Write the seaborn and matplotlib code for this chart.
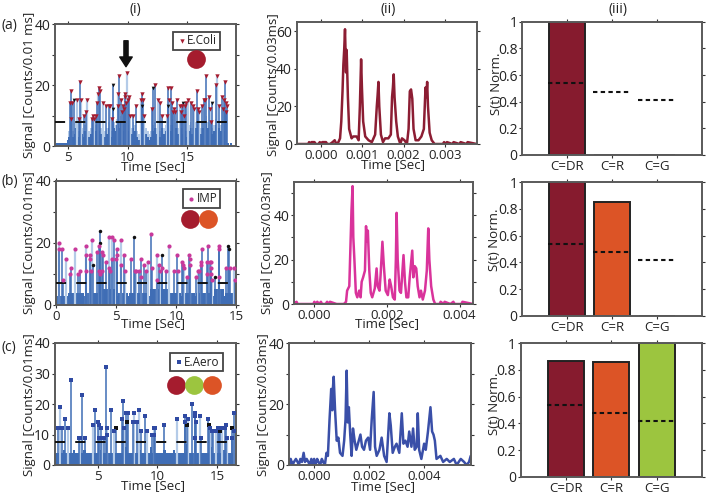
import matplotlib
matplotlib.use("Agg")
import matplotlib.pyplot as plt
import matplotlib.transforms as mtransforms
import seaborn as sns

# (i) peak markers, seconds / counts
ecoli_t = [5.1, 5.2, 5.2, 5.3, 5.7, 5.9, 5.95, 6.05, 6.3, 6.5, 6.55, 7.0, 7.05, 7.2, 7.3, 7.4, 7.5, 7.6, 7.65, 7.9,
           8.2, 8.4, 8.5, 8.7, 9.2, 9.2, 9.25, 9.4, 9.5, 9.6, 9.7, 9.75, 9.8, 9.85, 9.9, 10.0, 10.1, 10.2, 10.4, 10.7,
           11.1, 11.2, 11.3, 11.4, 12.0, 12.3, 12.5, 12.7, 12.9, 13.3, 13.4, 13.6, 13.5, 13.7, 13.8, 13.9, 14.0, 14.1,
           14.4, 14.5, 14.6, 14.7, 14.8, 14.9, 15.1, 15.3, 15.5, 15.6, 15.8, 15.9, 16.0, 16.2, 16.4, 16.5, 16.6, 16.8,
           16.9, 17.0, 17.4, 17.5, 17.7, 17.9, 18.0, 18.1, 18.2, 18.25, 18.3, 18.35]
ecoli_y = [14, 9, 18, 14, 15, 9, 21, 15, 10, 11, 15, 9, 10, 9, 10, 14, 17, 19, 18, 14,
           13, 13, 13, 9, 13, 17, 23, 15, 11, 13, 12, 16, 17, 14, 24, 15, 16, 10, 10, 13,
           15, 17, 15, 10, 12, 20, 15, 14, 10, 10, 19, 19, 15, 14, 11, 12, 11, 15,
           13, 11, 13, 10, 13, 14, 15, 14, 13, 12, 18, 12, 11, 13, 15, 15, 23, 16,
           12, 8, 20, 23, 13, 16, 12, 15, 21, 14, 11, 13]
ecoli_black_t = [5.5, 8.75, 8.75, 11.2, 12.15, 13.35, 14.65, 17.1]
ecoli_black_y = [15, 20, 12, 13, 19, 13, 14, 14]
ecoli_floor_t = [3.88, 4.9, 5.0, 5.15, 5.3, 5.45, 5.6, 5.75, 5.9, 6.05, 6.2, 6.35, 6.5, 6.65, 6.8, 6.95, 7.1, 7.25, 7.4,
                 7.55, 7.7, 7.85, 8.0, 8.15, 8.3, 8.45, 8.6, 8.75, 8.9, 9.05, 9.2, 9.35, 9.5, 9.65, 9.8, 9.95, 10.1,
                 10.25, 10.4, 10.55, 10.7, 10.85, 11.0, 11.15, 11.3, 11.45, 11.6, 11.75, 11.9, 12.05, 12.2, 12.35, 12.5,
                 12.65, 12.8, 12.95, 13.1, 13.25, 13.4, 13.55, 13.7, 13.85, 14.0, 14.15, 14.3, 14.45, 14.6, 14.75, 14.9,
                 15.05, 15.2, 15.35, 15.5, 15.65, 15.8, 15.95, 16.1, 16.25, 16.4, 16.55, 16.7, 16.85, 17.0, 17.15, 17.3,
                 17.45, 17.6, 17.75, 17.9, 18.05, 18.2, 18.5, 18.6, 18.75, 19.1]
ecoli_floor_y = [1, 2, 3, 5, 3, 4, 6, 3, 5, 4, 3, 5, 4, 3, 4, 6, 4, 5, 7,
                 5, 4, 6, 3, 4, 6, 5, 3, 6, 5, 7, 6, 8, 5, 7, 6, 5, 7,
                 4, 6, 5, 3, 2, 3, 6, 7, 4, 3, 2, 3, 5, 6, 4, 5,
                 3, 6, 4, 5, 7, 6, 5, 7, 5, 6, 4, 5, 6, 4, 5, 3,
                 5, 6, 4, 5, 6, 7, 5, 4, 6, 5, 8, 6, 7, 4, 5, 7,
                 5, 6, 5, 7, 5, 1, 0, 1, 0, 1]
ecoli_pale_y = [1, 2, 5, 7, 5, 6, 8, 5, 7, 6, 5, 7, 6, 5, 6, 8, 6, 7, 9,
                7, 6, 8, 5, 6, 8, 7, 5, 8, 7, 9, 8, 10, 7, 9, 8, 7, 9,
                6, 8, 7, 5, 4, 5, 8, 9, 6, 5, 4, 5, 7, 8, 6, 7,
                5, 8, 6, 7, 9, 8, 7, 9, 7, 8, 6, 7, 8, 6, 7, 5,
                7, 8, 6, 7, 8, 9, 7, 6, 8, 7, 10, 8, 9, 6, 7, 9,
                7, 8, 7, 9, 7, 1, 0, 1, 0, 1]

imp_t = [0.25, 0.25, 0.53, 0.6, 0.8, 1.2, 1.25, 1.6, 1.8, 2.0, 2.5, 2.5, 2.5, 2.8, 2.85, 2.9, 3.0, 3.4, 3.55, 3.6,
         3.7, 3.85, 3.8, 3.95, 4.15, 4.4, 4.45, 4.5, 4.7, 4.7, 4.85, 5.0, 5.1, 5.05, 5.4, 5.4, 5.65, 5.75, 6.25, 6.55,
         6.7, 6.95, 7.1, 7.1, 7.3, 7.5, 7.65, 7.9, 8.0, 8.45, 8.45, 8.6, 8.7, 8.85, 9.15, 9.45, 9.8, 10.1, 10.2, 10.5,
         10.55, 10.65, 10.9, 11.1, 11.15, 11.15, 11.65, 11.85, 11.9, 12.05, 12.1, 12.2, 12.55, 12.55, 12.7, 12.8, 12.9,
         12.9, 12.95, 13.0, 13.55, 13.6, 13.6, 14.2, 14.5, 14.8, 14.9]
imp_y = [18, 20, 18, 8, 15, 10, 12, 18, 10, 11, 19, 16, 11, 15, 16, 11, 21, 17, 19, 11,
         10, 17, 11, 16, 14, 22, 12, 11, 22, 15, 21, 15, 18, 16, 21, 13, 16, 11, 15, 11,
         11, 11, 15, 9, 13, 11, 14, 23, 12, 16, 8, 13, 11, 12, 11, 19, 11, 16, 11, 14,
         13, 12, 9, 16, 15, 13, 9, 11, 11, 14, 13, 18, 14, 10, 19, 14, 14,
         12, 10, 8, 18, 19, 9, 12, 12, 12, 8]
imp_black_t = [3.1, 3.65, 3.65, 6.5, 8.8, 13.25, 14.35, 14.4]
imp_black_y = [13, 24, 20, 22, 16, 9, 19, 18]
imp_floor_t = [0.0, 0.9, 1.0, 1.5, 1.6, 2.3, 2.4, 3.5, 3.6, 5.1, 5.2, 6.0, 6.1, 7.7, 7.8, 9.3, 9.4, 10.4, 10.5,
               11.6, 11.7, 13.1, 13.2, 14.0, 14.1, 15.0]
imp_floor_y = [3, 3, 4, 3, 4, 3, 4, 3, 5, 3, 4, 3, 4, 3, 5, 3, 4, 3, 4, 3, 4, 3, 5, 3, 4, 3]

aero_t = [1.7, 1.85, 2.0, 2.3, 2.5, 2.75, 3.45, 3.55, 3.7, 3.95, 4.65, 4.75, 5.0, 5.15, 5.25, 5.15, 5.35, 5.5, 5.7,
          5.8, 5.8, 6.1, 6.4, 7.05, 7.15, 7.25, 7.4, 7.55, 8.05, 8.0, 8.3, 8.5, 8.6, 9.0, 9.1, 9.55, 9.7, 9.75, 9.8,
          10.55, 11.65, 12.3, 12.35, 12.6, 12.9, 13.15, 13.15, 13.2, 13.25, 13.6, 13.7, 14.25, 14.45, 14.6, 14.65,
          14.95, 15.05, 15.15, 15.45, 15.65, 15.75, 15.85, 16.25, 16.4, 16.4]
aero_y = [12, 19, 12, 15, 12, 28, 9, 9, 23, 9, 13, 18, 14, 13, 12, 9, 9, 9, 32,
          12, 10, 18, 11, 15, 21, 12, 17, 17, 17, 14, 14, 18, 11, 16, 11, 10, 10, 12, 12,
          13, 15, 14, 16, 15, 20, 17, 9, 16, 14, 16, 9, 15, 12, 11, 11,
          11, 12, 12, 12, 12, 13, 9, 9, 17, 11]
aero_black_t = [6.55, 7.45, 12.5, 14.35, 15.3, 16.3]
aero_black_y = [12, 14, 13, 13, 11, 12]
aero_floor_t = [1.43, 2.1, 2.3, 2.9, 3.1, 3.8, 4.0, 4.5, 4.7, 5.2, 5.4, 6.3, 6.5, 7.3, 7.5, 8.4, 8.6, 9.4, 9.6,
                10.5, 10.7, 11.3, 11.5, 12.4, 12.6, 13.5, 13.7, 14.4, 14.6, 15.5, 15.7, 16.6]
aero_floor_y = [4, 5, 4, 5, 4, 5, 4, 6, 4, 5, 4, 5, 4, 6, 4, 5, 4, 6, 4, 5, 4, 5, 4, 7, 4, 5, 4, 6, 4, 5, 4, 4]

# (ii) single-cell traces, seconds / counts
ecoli_trace_t = [-0.00059, -0.00031, -0.00029, -0.00026, -0.00023, -0.00016, -0.00013, -0.00006, -0.00003, 0.0,
                 0.00003, 0.00012, 0.00015, 0.00022, 0.00028, 0.00033, 0.00037, 0.00042, 0.00046, 0.00049, 0.00052,
                 0.00054, 0.00056, 0.00058, 0.000605, 0.00062, 0.00065, 0.00068, 0.00074, 0.00078, 0.00086, 0.00091,
                 0.00094, 0.00097, 0.00099, 0.00102, 0.00107, 0.00115, 0.00123, 0.00131, 0.00135, 0.00137, 0.00139,
                 0.00141, 0.00145, 0.0015, 0.00155, 0.00163, 0.00169, 0.00172, 0.00174, 0.00176, 0.00178, 0.00182,
                 0.00186, 0.00192, 0.00196, 0.00202, 0.00208, 0.00212, 0.00215, 0.00218, 0.00221, 0.00224, 0.00229,
                 0.00236, 0.00243, 0.00249, 0.00253, 0.00255, 0.00257, 0.00259, 0.00263, 0.00268, 0.00275, 0.00295,
                 0.00298, 0.00301, 0.00305, 0.00318, 0.00321, 0.00335, 0.00338, 0.00352, 0.00355, 0.00377]
ecoli_trace_y = [0, 0, 1, 0, 1, 1, 0, 0, 1, 0,
                 1, 1, 0, 0, 1, 2, 0, 1, 3, 12, 28,
                 42, 50, 61, 38, 50, 25, 8, 3, 4, 4, 2,
                 20, 45, 30, 12, 4, 2, 1, 5, 20, 26, 33,
                 20, 5, 1, 3, 3, 5, 25, 30, 37, 25, 12,
                 4, 0, 3, 2, 0, 8, 28, 29, 24, 8, 2,
                 2, 4, 8, 30, 25, 33, 20, 6, 2, 0, 0,
                 1, 0, 1, 0, 1, 0, 1, 0, 1, 0]
imp_trace_t = [-0.00055, -0.00052, -0.00048, -0.00045, -0.0003, -0.00002, 0.00001, 0.00004, 0.00009, 0.00014, 0.00019,
               0.00022, 0.00032, 0.00036, 0.00039, 0.00044, 0.00062, 0.00064, 0.00082, 0.00088, 0.00091, 0.00097,
               0.001, 0.00103, 0.00106, 0.00108, 0.00111, 0.00115, 0.00119, 0.00124, 0.00128, 0.00131, 0.00135,
               0.0014, 0.00143, 0.00145, 0.00148, 0.00152, 0.00156, 0.0016, 0.00167, 0.00172, 0.00175, 0.0018, 0.00183,
               0.00188, 0.00192, 0.00197, 0.00203, 0.00208, 0.00212, 0.00217, 0.00222, 0.00225, 0.00227, 0.0023,
               0.00235, 0.00239, 0.00246, 0.0025, 0.00254, 0.00259, 0.00263, 0.0027, 0.00273, 0.00277, 0.00281,
               0.00285, 0.0029, 0.00294, 0.00299, 0.00305, 0.0031, 0.00314, 0.00317, 0.00322, 0.00328, 0.00333,
               0.00345, 0.00348, 0.00356, 0.00359, 0.00375, 0.00383, 0.00386, 0.0039, 0.00405, 0.00408, 0.00437]
imp_trace_y = [1, 0, 1, 0, 0, 0, 1, 0, 1, 0, 1,
               0, 0, 1, 0, 1, 0, 0, 0, 1, 6, 8,
               25, 42, 53, 30, 20, 5, 3, 6, 3, 10, 12,
               15, 35, 28, 33, 15, 5, 3, 7, 16, 8, 6, 13,
               28, 17, 6, 4, 11, 8, 3, 2, 20, 41, 20,
               6, 5, 22, 10, 3, 3, 12, 24, 12, 17, 16,
               8, 3, 6, 2, 6, 15, 34, 20, 8, 2, 0,
               0, 1, 0, 1, 0, 1, 0, 0, 0, 1, 0]
aero_trace_t = [-0.0009, -0.00085, -0.00078, -0.00073, -0.00066, -0.0006, -0.00055, -0.0005, -0.00044, -0.00038,
                -0.00033, -0.00027, -0.00021, -0.00016, -0.0001, -0.00005, 0.0, 0.00005, 0.00011, 0.00016, 0.00022,
                0.00028, 0.00033, 0.00039, 0.00045, 0.0005, 0.00056, 0.00062, 0.00066, 0.00068, 0.00071, 0.00076,
                0.00082, 0.00088, 0.00094, 0.00103, 0.00109, 0.00114, 0.00118, 0.00122, 0.00126, 0.00131, 0.00136,
                0.00141, 0.00147, 0.00153, 0.00159, 0.00168, 0.00174, 0.00181, 0.00188, 0.00196, 0.00203, 0.00209,
                0.00216, 0.00221, 0.00227, 0.00237, 0.00245, 0.00254, 0.00263, 0.00273, 0.00278, 0.00285, 0.00293,
                0.00299, 0.00309, 0.00318, 0.00324, 0.00331, 0.00339, 0.00345, 0.00353, 0.00359, 0.00365, 0.00372,
                0.00376, 0.00381, 0.00389, 0.00399, 0.00405, 0.00413, 0.00422, 0.00428, 0.00433, 0.00438, 0.00444,
                0.00458, 0.00468, 0.00481, 0.00492, 0.00507, 0.00517, 0.00532, 0.00544, 0.00553, 0.00562, 0.00568]
aero_trace_y = [0, 2, 0, 1, 2, 1, 0, 2, 1, 4,
                1, 2, 1, 0, 2, 0, 2, 0, 2, 1, 0,
                2, 1, 0, 4, 3, 15, 25, 18, 25, 29, 18,
                8, 9, 4, 3, 8, 15, 31, 14, 19, 10, 3,
                12, 8, 5, 7, 10, 6, 5, 8, 9, 5, 15,
                24, 6, 3, 5, 9, 3, 1, 17, 13, 4, 6,
                7, 4, 17, 7, 8, 6, 11, 6, 12, 5, 6,
                17, 5, 2, 7, 5, 11, 19, 11, 10, 8, 2,
                3, 1, 2, 1, 2, 0, 2, 1, 0, 1, 3]

# (iii) normalised intensity per channel
channels = ["C=DR", "C=R", "C=G"]
ecoli_norm = [1.0, 0.0, 0.0]
imp_norm = [1.0, 0.85, 0.0]
aero_norm = [0.87, 0.86, 1.0]
thresholds = [0.54, 0.475, 0.415]

RED = "#861b2e"
CIRCLE_RED = "#a51c2e"
ORANGE = "#dc5426"
GREEN = "#9cc53f"
STEM = "#3f6db5"
STEM_LIGHT = "#b4cbe8"
SPINE = "#5a5a5a"
TXT = "#222222"

sns.set_theme(style="white")
plt.rcParams["font.family"] = ["Open Sans", "DejaVu Sans"]
plt.rcParams["text.color"] = TXT
plt.rcParams["axes.labelcolor"] = TXT
plt.rcParams["xtick.color"] = TXT
plt.rcParams["ytick.color"] = TXT

W, H = 706, 496
fig = plt.figure(figsize=(W / 100, H / 100), dpi=100, facecolor="white")
# image pixels, origin top left
px = mtransforms.Affine2D().scale(1, -1).translate(0, H)


def make_axes(left, top, right, bottom):
    ax = fig.add_axes([left / W, 1 - bottom / H, (right - left) / W, (bottom - top) / H])
    for s in ax.spines.values():
        s.set_color(SPINE)
        s.set_linewidth(1.4)
    ax.tick_params(which="both", direction="out", length=2, width=0.8, color="#333333",
                   top=True, right=True, bottom=True, left=True, labelsize=9.5, pad=1.5)
    ax.tick_params(axis="y", labelsize=10)
    return ax


def plot_signal(ax, floor_t, floor_y, t, y, black_t, black_y, thr, color, marker, size, name, xlim, xticks, yticks, minor):
    ax.fill_between(floor_t, floor_y, step="post", color=STEM, lw=0)
    for i in range(len(t)):
        if i % 3 == 1:
            ax.vlines(t[i], 0, y[i], color=STEM_LIGHT, lw=1.6, zorder=1.5)
        else:
            ax.vlines(t[i], 0, y[i], color=STEM, lw=1.1, zorder=1.6)
    for i in range(len(black_t)):
        ax.vlines(black_t[i], 0, black_y[i], color=STEM, lw=1.1, zorder=1.6)
    ax.axhline(thr, color="#111111", lw=1.4, ls=(0, (5.2, 5.2)), zorder=3)
    sns.scatterplot(x=black_t, y=black_y, ax=ax, color="#111111", marker=marker, s=size * 0.7, linewidth=0, zorder=4)
    sns.scatterplot(x=t, y=y, ax=ax, color=color, marker=marker, s=size, linewidth=0, zorder=5, label=name)
    ax.set_xlim(*xlim)
    ax.set_ylim(0, 40)
    ax.set_xticks(xticks)
    ax.set_yticks(yticks)
    ax.set_yticks(minor, minor=True)


def add_legend(ax, cx, cy):
    leg = ax.legend(loc="center", bbox_to_anchor=(cx, cy), bbox_transform=px, fontsize=8.5, frameon=True,
                    fancybox=False, framealpha=1, edgecolor="#444444", handletextpad=0.0, handlelength=0.9,
                    borderpad=0.25, borderaxespad=0)
    leg.get_frame().set_linewidth(1.3)


def plot_trace(ax, t, y, color, xlim, ylim, xticks, yticks, minor):
    sns.lineplot(x=t, y=y, ax=ax, color=color, lw=1.8, errorbar=None, estimator=None, sort=False)
    ax.set_xlim(*xlim)
    ax.set_ylim(*ylim)
    ax.set_xticks(xticks)
    ax.set_xticklabels([f"{v:.3f}" for v in xticks])
    ax.set_yticks(yticks)
    ax.set_yticks(minor, minor=True)


def plot_norm(ax, values):
    sns.barplot(x=channels, y=values, hue=channels, palette=[RED, ORANGE, GREEN], ax=ax, legend=False,
                width=0.8, edgecolor="#222222", linewidth=1.4, saturation=1)
    for i in range(len(channels)):
        ax.hlines(thresholds[i], i - 0.42, i + 0.4, color="#111111", lw=1.5, ls=(0, (2.1, 1.6)), zorder=5)
    ax.set_xlim(-1, 3)
    ax.set_ylim(0, 1)
    ax.set_yticks([0, 0.2, 0.4, 0.6, 0.8, 1])
    ax.set_yticklabels(["0", "0.2", "0.4", "0.6", "0.8", "1"])


# left column
ax_a1 = make_axes(55, 24, 236, 146)
ax_a1.fill_between(ecoli_floor_t, ecoli_pale_y, step="post", color=STEM_LIGHT, lw=0, zorder=0.5)
plot_signal(ax_a1, ecoli_floor_t, ecoli_floor_y, ecoli_t, ecoli_y, ecoli_black_t, ecoli_black_y, 8, "#a51c30", "v", 10,
            "E.Coli", (3.88, 19.1), [5, 10, 15], [0, 20, 40], [10, 30])
add_legend(ax_a1, 196.5, 41)
ax_a1.annotate("", xy=(9.85, 26), xytext=(9.85, 34.5),
               arrowprops=dict(width=3, headwidth=9, headlength=7, color="#111111", shrink=0))

ax_b1 = make_axes(56, 181, 236, 305)
plot_signal(ax_b1, imp_floor_t, imp_floor_y, imp_t, imp_y, imp_black_t, imp_black_y, 7, "#c8399b", "o", 9,
            "IMP", (0, 15), [0, 5, 10, 15], [0, 20, 40], [10, 30])
add_legend(ax_b1, 201.5, 198.5)

ax_c1 = make_axes(55, 343, 236, 465)
plot_signal(ax_c1, aero_floor_t, aero_floor_y, aero_t, aero_y, aero_black_t, aero_black_y, 7.5, "#2f4aa3", "s", 7,
            "E.Aero", (1.43, 16.6), [5, 10, 15], [0, 10, 20, 30, 40], [])
add_legend(ax_c1, 196.5, 362)

# middle column
ax_a2 = make_axes(296.7, 21.7, 476.7, 144)
plot_trace(ax_a2, ecoli_trace_t, ecoli_trace_y, "#8c1d33", (-0.00059, 0.00377), (0, 65), [0, 0.001, 0.002, 0.003],
           [0, 20, 40, 60], [])
ax_b2 = make_axes(294, 181.7, 473, 304)
plot_trace(ax_b2, imp_trace_t, imp_trace_y, "#d9339b", (-0.00055, 0.00437), (0, 55), [0, 0.002, 0.004],
           [0, 20, 40], [10, 30, 50])
ax_c2 = make_axes(289.3, 343.3, 470.7, 465)
plot_trace(ax_c2, aero_trace_t, aero_trace_y, "#3a4fa8", (-0.0009, 0.00568), (0, 40), [0, 0.002, 0.004],
           [0, 20, 40], [10, 30])

# right column
ax_a3 = make_axes(522.3, 21.7, 702, 155)
plot_norm(ax_a3, ecoli_norm)
ax_b3 = make_axes(522.3, 182.3, 702, 315.7)
plot_norm(ax_b3, imp_norm)
ax_c3 = make_axes(520.7, 343.3, 702, 476.7)
plot_norm(ax_c3, aero_norm)

# coloured dots
for cx, cy, col in [(195.7, 59.3, CIRCLE_RED), (190, 219, CIRCLE_RED), (208, 219, ORANGE),
                    (175.7, 385, CIRCLE_RED), (193.7, 385, GREEN), (212, 385, ORANGE)]:
    fig.add_artist(plt.Line2D([cx], [cy], marker="o", ms=13.5, mfc=col, mec="none", ls="", transform=px, zorder=10))

# texts
for x, y, s in [(135, 9, "(i)"), (388, 9, "(ii)"), (618, 9, "(iii)")]:
    fig.text(x, y, s, transform=px, ha="center", va="center", fontsize=10)
for y, s in [(25, "(a)"), (182, "(b)"), (348, "(c)")]:
    fig.text(2, y, s, transform=px, ha="left", va="center", fontsize=10)
for x, y, s in [(30, 85, "Signal [Counts/0.01 ms]"), (30, 243, "Signal [Counts/0.01ms]"), (30, 405, "Signal [Counts/0.01ms]"),
                (273, 85, "Signal [Counts/0.03ms]"), (268, 243, "Signal [Counts/0.03ms]"), (263, 405, "Signal [Counts/0.03ms]")]:
    fig.text(x, y, s, transform=px, ha="center", va="center", rotation=90, fontsize=9.5)
for x, y in [(496, 84), (495, 240), (495, 404)]:
    fig.text(x, y, "S(t) Norm.", transform=px, ha="center", va="center", rotation=90, fontsize=9.5)
for x, y in [(153, 167), (153, 324), (153, 486), (393, 165), (387, 324), (383, 487)]:
    fig.text(x, y, "Time [Sec]", transform=px, ha="center", va="center", fontsize=9.5)

fig.savefig("out.png", dpi=100)
